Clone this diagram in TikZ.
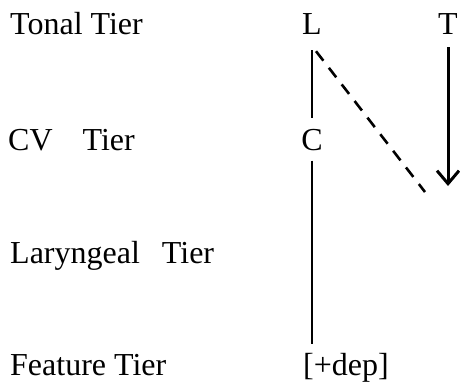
\documentclass[tikz,border=0pt]{standalone}
\usepackage{fontspec}
\setmainfont{Liberation Serif}
\usetikzlibrary{arrows.meta}

\begin{document}
\begin{tikzpicture}[
    x=1pt, y=-1pt,
    font=\fontsize{32}{36}\selectfont,
    tierlab/.style={anchor=base west, inner sep=0pt},
    seg/.style={anchor=base, inner sep=0pt},
    assoc/.style={line width=2.2pt},
    delink/.style={line width=2.6pt, dash pattern=on 12pt off 9pt},
    spread/.style={-{Straight Barb[length=13pt, width=22pt]}, line width=3pt}
]
\useasboundingbox (0,0) rectangle (460,385);

\node[tierlab] (tonal) at (10,35) {Tonal Tier};
\node[tierlab] (cv) at (8,150) {CV\hspace{30pt}Tier};
\node[tierlab] (laryn) at (10,263) {Laryngeal\hspace{22pt}Tier};
\node[tierlab] (feat) at (10,375) {Feature Tier};

\node[seg] (L) at (312,35) {L};
\node[seg] (T) at (448,35) {T};
\node[seg] (C) at (312,150) {C};
\node[seg] (dep) at (346,375) {[+dep]};

\coordinate (dashend) at (425,192);
\coordinate (tend) at (448,186);

\draw[assoc, shorten <=15pt, shorten >=11pt] (L) -- (C);
\draw[assoc, shorten <=10pt, shorten >=9pt] (C) -- (C |- dep.north);
\draw[delink] ([xshift=4pt, yshift=-16pt]L.south) -- (dashend);
\draw[spread, shorten <=12pt] (T) -- (tend);
\end{tikzpicture}
\end{document}
